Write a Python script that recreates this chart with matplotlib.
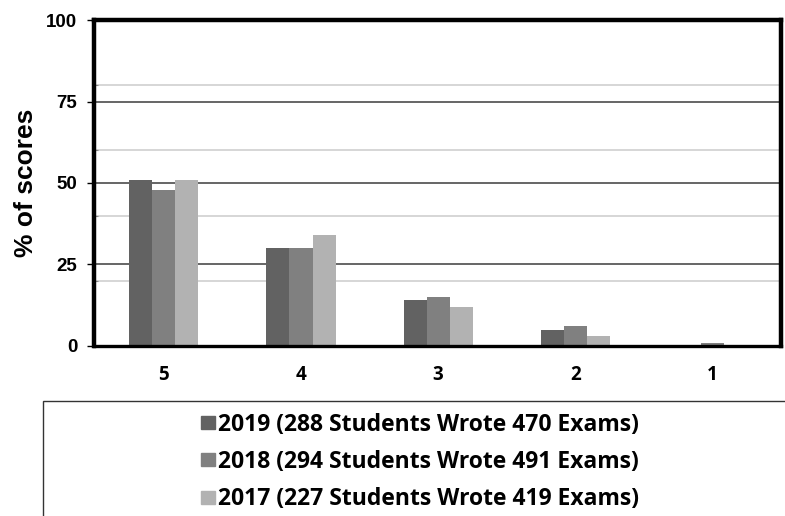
import numpy as np
import matplotlib.pyplot as plt
from matplotlib.patches import Rectangle, Patch

# scores shown on the x axis, highest first
scores = ["5", "4", "3", "2", "1"]
pct_2019 = [51, 30, 14, 5, 0]
pct_2018 = [48, 30, 15, 6, 1]
pct_2017 = [51, 34, 12, 3, 0]
labels = ["2019 (288 Students Wrote 470 Exams)",
          "2018 (294 Students Wrote 491 Exams)",
          "2017 (227 Students Wrote 419 Exams)"]
colors = ["#626262", "#808080", "#b2b2b2"]

fig = plt.figure(figsize=(7.85, 5.16), dpi=100)
ax = fig.add_axes([0.1197, 0.3295, 0.875, 0.6317])

x = np.arange(len(scores))
w = 0.168
series = [pct_2019, pct_2018, pct_2017]
for i, vals in enumerate(series):
    ax.bar(x + (i - 1) * w, vals, width=w, color=colors[i], zorder=3)

# gridlines: light ones at the 20s, dark ones at the 25s
for g in [20, 40, 60, 80]:
    ax.axhline(g, color="#d0d0d0", linewidth=1.2, zorder=1)
for g in [25, 50, 75]:
    ax.axhline(g, color="#595959", linewidth=1.3, zorder=1)

ax.set_xlim(-0.51, 4.5)
ax.set_ylim(0, 100)
ax.set_yticks([0, 25, 50, 75, 100])
ax.set_yticklabels(["0", "25", "50", "75", "100"], fontsize=13.5,
                   fontweight="bold", family="Liberation Sans")
ax.set_yticks([20, 40, 60, 80], minor=True)
ax.tick_params(axis="y", which="minor", direction="in", length=3, width=0.8,
               color="#888888")
ax.set_xticks(x)
ax.set_xticklabels(scores, fontsize=13.5, fontweight="bold", family="Open Sans")
ax.tick_params(axis="x", length=0, pad=14)
ax.tick_params(axis="y", which="major", length=5, width=1, pad=7)
for name, s in ax.spines.items():
    s.set_linewidth(3.2 if name != "bottom" else 2.4)
    s.set_color("black")
    s.set_zorder(4)

ax.set_ylabel("% of scores", fontsize=19, fontweight="bold",
              family="Liberation Sans", labelpad=6)

# legend box (open past the figure edge)
fig.patches.append(Rectangle((42.5 / 785, -0.05), 1.0, 1 - 401 / 516 + 0.05,
                             transform=fig.transFigure, fill=False,
                             edgecolor="#333333", linewidth=1.0))
handles = [Patch(color=c) for c in colors]
fig.legend(handles, labels, loc="upper left",
           bbox_to_anchor=(180 / 785, 1 - 392 / 516), frameon=False,
           prop={"family": "Open Sans", "weight": "bold", "size": 16.5},
           handlelength=0.61, handleheight=0.49, handletextpad=0.14,
           labelspacing=0.58)

fig.savefig("out.png", dpi=100)
